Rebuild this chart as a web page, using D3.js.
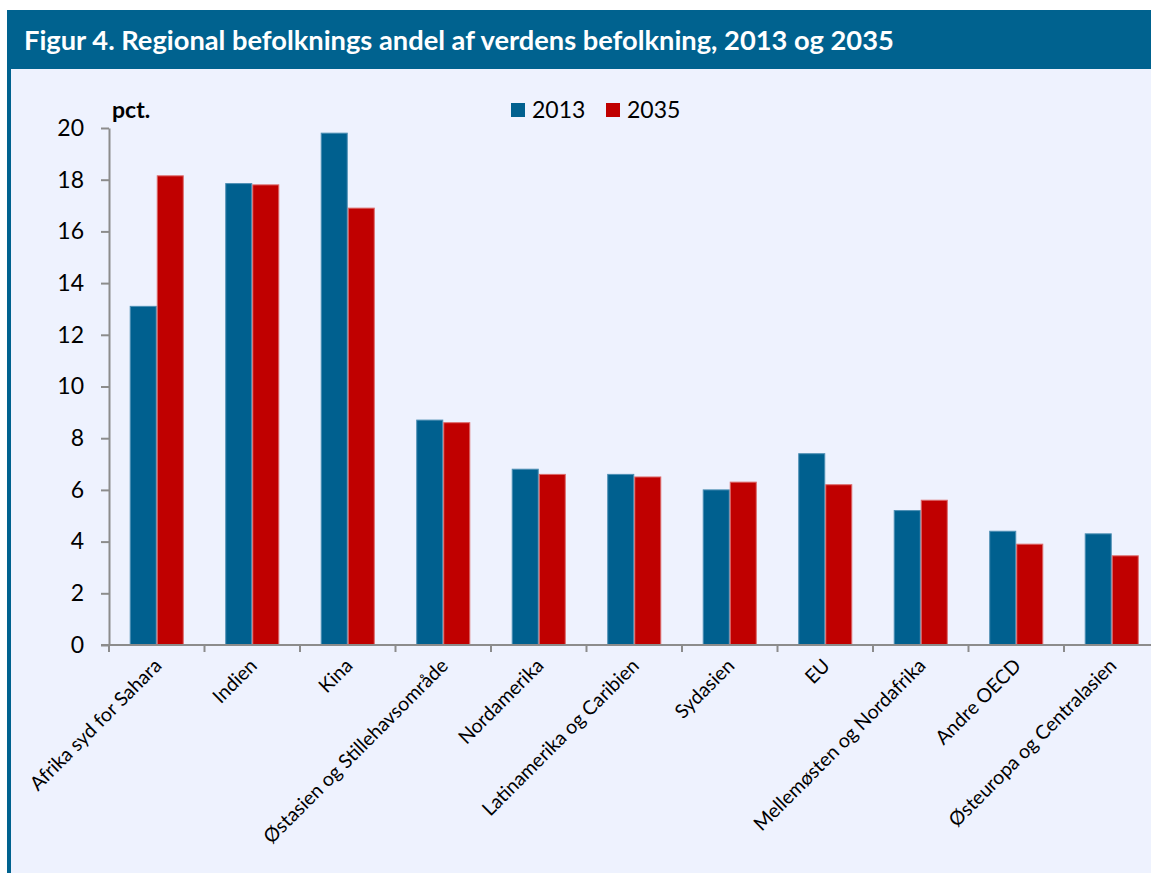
<!DOCTYPE html>
<html>
<head>
<meta charset="utf-8">
<script src="https://cdn.jsdelivr.net/npm/d3@7"></script>
<style>
  body { margin: 0; background: #fff; }
  svg { display: block; font-family: Lato, "Open Sans", sans-serif; }
</style>
</head>
<body>
<script>
const width = 1151;
const height = 873;

// data
const regions = ["Afrika syd for Sahara", "Indien", "Kina", "Østasien og Stillehavsområde",
    "Nordamerika", "Latinamerika og Caribien", "Sydasien", "EU",
    "Mellemøsten og Nordafrika", "Andre OECD", "Østeuropa og Centralasien"];
const years = ["2013", "2035"];
const share2013 = [13.1, 17.85, 19.8, 8.7, 6.8, 6.6, 6.0, 7.4, 5.2, 4.4, 4.3];
const share2035 = [18.15, 17.8, 16.9, 8.6, 6.6, 6.5, 6.3, 6.2, 5.6, 3.9, 3.45];
const yTicks = [0, 2, 4, 6, 8, 10, 12, 14, 16, 18, 20];

const colors = { "2013": "#00608F", "2035": "#C00000" };
const edge = { "2013": "#4d8fb4", "2035": "#dc6a6a" };

const svg = d3.select("body").append("svg")
    .attr("width", width)
    .attr("height", height);

// frame + title bar
svg.append("rect").attr("x", 7).attr("y", 10).attr("width", width - 7).attr("height", height - 10)
    .attr("fill", "#EEF2FE");
svg.append("rect").attr("x", 7).attr("y", 10).attr("width", 4).attr("height", height - 10)
    .attr("fill", "#00628F");
svg.append("rect").attr("x", 7).attr("y", 10).attr("width", width - 7).attr("height", 59)
    .attr("fill", "#00628F");

const title = svg.append("text")
    .attr("x", 24).attr("y", 50)
    .attr("fill", "#fff")
    .attr("font-weight", "bold")
    .attr("font-size", 22)
    .text("Figur 4. Regional befolknings andel af verdens befolkning, 2013 og 2035");
// squeeze title to the width used in the figure
const tw = title.node().getComputedTextLength();
title.attr("font-size", 22 * 870 / tw);

const margin = { left: 109, top: 128, bottom: 645 };
const bandW = 95.5;

const x = d3.scaleBand()
    .domain(regions)
    .range([margin.left, margin.left + bandW * regions.length])
    .paddingInner(0.434)
    .paddingOuter(0.217);

const xs = d3.scaleBand().domain(years).range([0, x.bandwidth()]);

const y = d3.scaleLinear().domain([0, 20]).range([margin.bottom, margin.top]);

const table = regions.map((r, i) => ({ region: r, values: [
    { year: "2013", v: share2013[i] },
    { year: "2035", v: share2035[i] }
]}));

// bars
const groups = svg.append("g").selectAll("g")
    .data(table)
    .join("g")
    .attr("transform", d => `translate(${x(d.region)},0)`);

groups.selectAll("rect")
    .data(d => d.values)
    .join("rect")
    .attr("x", d => xs(d.year) + 0.5)
    .attr("y", d => y(d.v))
    .attr("width", xs.bandwidth() - 1)
    .attr("height", d => y(0) - y(d.v))
    .attr("fill", d => colors[d.year])
    .attr("stroke", d => edge[d.year])
    .attr("stroke-width", 1);

// y axis
const yAxis = svg.append("g")
    .attr("transform", `translate(${margin.left},0)`)
    .call(d3.axisLeft(y).tickValues(yTicks).tickSize(8).tickPadding(17).tickSizeOuter(0));
yAxis.select(".domain").attr("stroke", "#8c8c8c").attr("stroke-width", 2);
yAxis.selectAll(".tick line").attr("stroke", "#8c8c8c").attr("stroke-width", 2);
yAxis.selectAll(".tick text").attr("font-size", 23).attr("fill", "#000")
    .attr("font-family", "Lato, sans-serif");

// x axis line and ticks between categories
const xEdges = d3.range(regions.length + 1).map(i => margin.left + i * bandW);
svg.append("line")
    .attr("x1", margin.left - 8).attr("x2", width)
    .attr("y1", y(0)).attr("y2", y(0))
    .attr("stroke", "#8c8c8c").attr("stroke-width", 2);
svg.append("g").selectAll("line")
    .data(xEdges)
    .join("line")
    .attr("x1", d => d).attr("x2", d => d)
    .attr("y1", y(0)).attr("y2", y(0) + 7)
    .attr("stroke", "#8c8c8c").attr("stroke-width", 2);

// category labels, rotated
svg.append("g").selectAll("text")
    .data(regions)
    .join("text")
    .attr("transform", d => `translate(${x(d) + x.bandwidth() / 2 + 6},${y(0) + 22}) rotate(-45)`)
    .attr("text-anchor", "end")
    .attr("font-size", 19.5)
    .attr("fill", "#000")
    .text(d => d);

// unit label
svg.append("text")
    .attr("x", 112).attr("y", 118)
    .attr("font-weight", "bold")
    .attr("font-size", 23)
    .text("pct.");

// legend
const legend = svg.append("g").selectAll("g")
    .data(years)
    .join("g")
    .attr("transform", (d, i) => `translate(${511 + i * 95},103)`);
legend.append("rect")
    .attr("width", 14).attr("height", 14)
    .attr("fill", d => colors[d]);
legend.append("text")
    .attr("x", 21).attr("y", 15)
    .attr("font-size", 23)
    .text(d => d);
</script>
</body>
</html>
